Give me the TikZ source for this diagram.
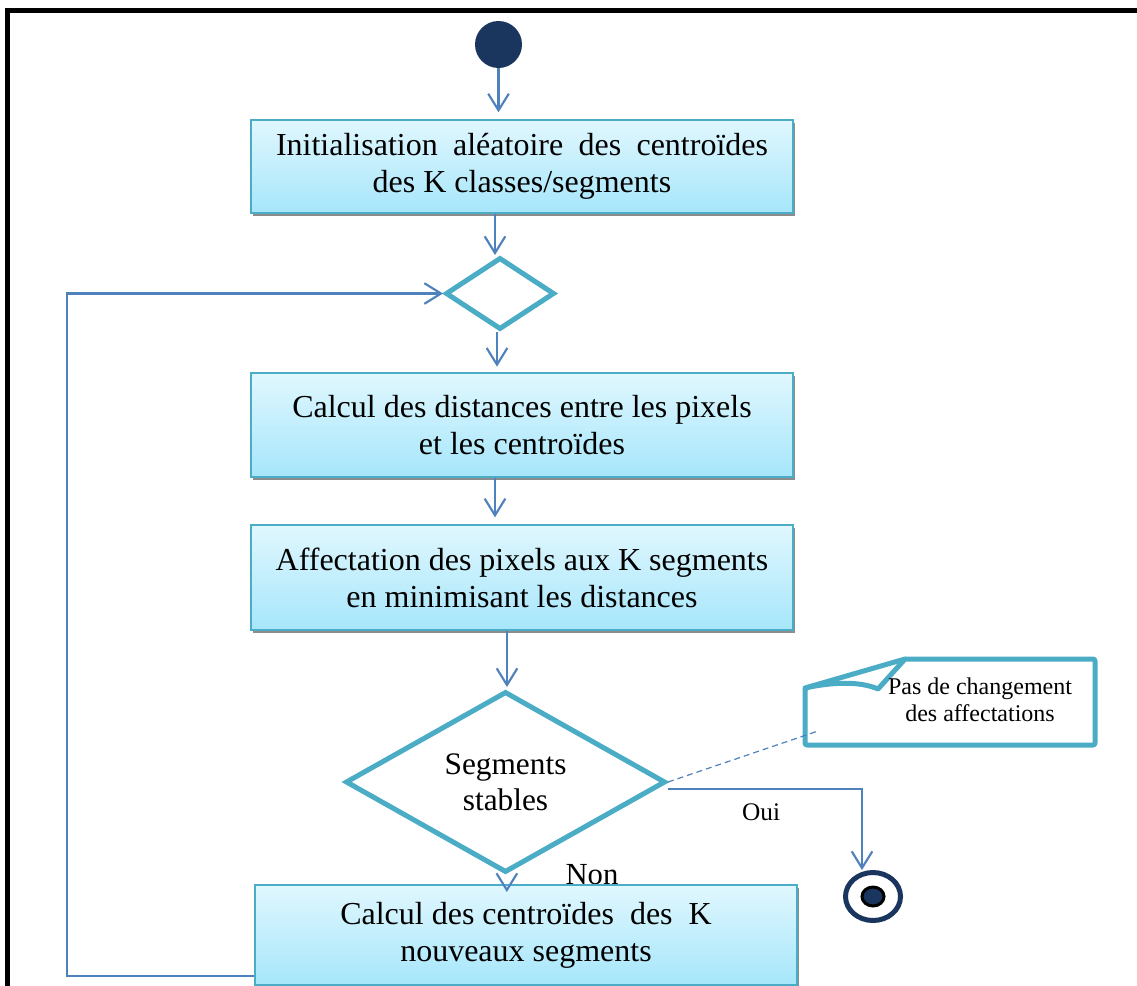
\documentclass[tikz,border=0pt]{standalone}
\usepackage{fontspec}
\setmainfont{Liberation Serif}
\usetikzlibrary{arrows.meta,shapes.geometric,shadows}

\definecolor{navy}{HTML}{1B365E}
\definecolor{tealline}{HTML}{4BACC6}
\definecolor{flowblue}{HTML}{4F81BD}
\definecolor{fillTop}{HTML}{E0F7FE}
\definecolor{fillBot}{HTML}{A6E6FB}

\begin{document}
\begin{tikzpicture}[x=0.75pt,y=-0.75pt,
  stepbox/.style={rectangle, draw=tealline, line width=1.5pt,
    top color=fillTop, bottom color=fillBot,
    minimum width=406.5pt, inner sep=0pt, align=center,
    font=\fontsize{24}{27.75}\selectfont,
    drop shadow={shadow xshift=1.3pt, shadow yshift=-2.2pt, fill=black!45, opacity=1}},
  choice/.style={diamond, draw=tealline, line width=3.75pt, fill=white,
    inner sep=0pt, align=center},
  flow/.style={draw=flowblue, line width=1.6pt,
    -{Straight Barb[length=12.5pt, width=15.5pt]}},
  link/.style={draw=flowblue, line width=0.9pt, dash pattern=on 4.5pt off 3pt}]

\useasboundingbox (0,0) rectangle (1137,985);

% frame
\draw[line width=3.75pt, black] (7.5,990) -- (7.5,10.5) -- (1145,10.5);

% start node
\node[circle, fill=navy, minimum size=35.25pt, inner sep=0pt] (start) at (498.5,44.5) {};

% process steps and decisions
\node[stepbox, minimum height=69.75pt] (b1) at (522,166.5)
  {\makebox[369pt][s]{Initialisation aléatoire des centroïdes}\\des K classes/segments};
\node[choice, minimum width=81.75pt, minimum height=54pt] (d0) at (500,293.5) {};
\node[stepbox, minimum height=78pt] (b2) at (522,425)
  {Calcul des distances entre les pixels\\et les centroïdes};
\node[stepbox, minimum height=78.75pt] (b3) at (522,577.5)
  {Affectation des pixels aux K segments\\en minimisant les distances};
\node[choice, minimum width=240pt, minimum height=135.75pt,
  font=\fontsize{23.5}{27}\selectfont] (d1) at (505.5,782) {Segments\\stables};
\node[font=\fontsize{23}{27}\selectfont] (non) at (592,874.5) {Non};
\node[stepbox, minimum height=75pt] (b4) at (526,935)
  {Calcul des centroïdes\ \ des\ \ K\\nouveaux segments};

% end node
\node[ellipse, draw=navy, line width=3.75pt, fill=white, inner sep=0pt,
  minimum width=41.25pt, minimum height=36pt] (end) at (873,896.5) {};
\draw[black, line width=2.25pt, fill=navy] (end.center) ellipse [x radius=8.25pt, y radius=7.1pt];

% note with folded corner
\draw[tealline, line width=3.75pt, fill=white, line join=round, rounded corners=1.5pt]
  (805,688) -- (805,745) -- (1095,745) -- (1095,659) -- (905,659) -- cycle;
\draw[tealline, line width=3.75pt, line join=round, line cap=round]
  (805,688) .. controls (832,682) and (860,681) .. (878,689) -- (905,659);
\node[font=\fontsize{18}{20.25}\selectfont, align=center] (note) at (980,699.5)
  {Pas de changement\\des affectations};
\coordinate (notetip) at (818,731);
\draw[link] (d1.east) -- (notetip);

% connectors
\coordinate (loopx) at (67,293.5);
\draw[flow, shorten >=5pt] (start) -- (start |- b1.north);
\draw[flow] ([xshift=-20.25pt]b1.south) -- ([xshift=-20.25pt]b1.south |- d0.north);
\draw[flow, shorten >=4pt] ([xshift=-2.25pt]d0.south) -- ([xshift=-2.25pt]d0.south |- b2.north);
\draw[flow, shorten >=5pt] ([xshift=-20.25pt]b2.south) -- ([xshift=-20.25pt]b2.south |- b3.north);
\draw[flow, shorten >=1.5pt] ([xshift=-11.25pt]b3.south) -- ([xshift=-11.25pt]b3.south |- d1.north);
\draw[flow, shorten <=10pt, shorten >=-6pt] ([xshift=1pt]d1.south) -- ([xshift=1pt]d1.south |- b4.north);
\draw[flow] ([yshift=7.5pt]b4.south west) -| (loopx) -- (d0.west);
\draw[flow] ([yshift=-5.5pt]d1.east) -| ([xshift=-8.25pt]end.north)
  node[pos=0.24, below=7pt, font=\fontsize{19}{22}\selectfont] (oui) {Oui};

\end{tikzpicture}
\end{document}
